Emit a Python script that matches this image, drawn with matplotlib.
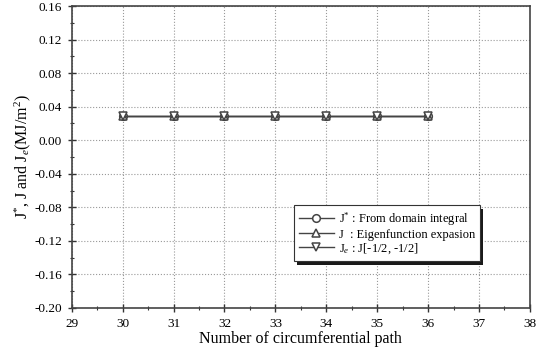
import numpy as np
import matplotlib
matplotlib.use('Agg')
import matplotlib.pyplot as plt
from matplotlib.ticker import MultipleLocator
from matplotlib.patches import Rectangle

plt.rcParams['font.family'] = ['Liberation Serif', 'DejaVu Serif']
plt.rcParams['mathtext.fontset'] = 'custom'
plt.rcParams['mathtext.rm'] = 'Liberation Serif'
plt.rcParams['mathtext.it'] = 'Liberation Serif:italic'

################   Data   ####################
paths = [30, 31, 32, 33, 34, 35, 36]
J_star = [0.029, 0.029, 0.029, 0.029, 0.029, 0.029, 0.029]    # domain integral
J_eig = [0.029, 0.029, 0.029, 0.029, 0.029, 0.029, 0.029]     # eigenfunction expansion
J_e = [0.029, 0.029, 0.029, 0.029, 0.029, 0.029, 0.029]       # J[-1/2, -1/2]

labels = [r'$\mathrm{J}^{*}$ : From domain integral',
          r'J  : Eigenfunction expasion',
          r'$\mathrm{J}_{e}$ : J[-1/2, -1/2]']

################   Plot   ####################
fig = plt.figure(figsize=(5.44, 3.56), dpi=100)
ax = fig.add_axes([0.132, 0.135, 0.842, 0.848])

lc = '#444444'
ax.plot(paths, J_star, c=lc, lw=1.0, marker='o', ms=5.5, mfc='white', mec=lc, mew=1.1, label=labels[0])
ax.plot(paths, J_eig, c=lc, lw=1.0, marker='^', ms=5.5, mfc='white', mec=lc, mew=1.1, label=labels[1])
ax.plot(paths, J_e, c=lc, lw=1.0, marker='v', ms=5.5, mfc='white', mec=lc, mew=1.1, label=labels[2])

ax.set_xlim(29, 38)
ax.set_ylim(-0.20, 0.16)
ax.xaxis.set_major_locator(MultipleLocator(1))
ax.xaxis.set_minor_locator(MultipleLocator(0.5))
ax.yaxis.set_major_locator(MultipleLocator(0.04))
ax.yaxis.set_minor_locator(MultipleLocator(0.02))
ax.yaxis.set_major_formatter(lambda v, p: '%.2f' % (0.0 if abs(v) < 1e-9 else v))

ax.grid(True, which='major', ls=':', lw=0.8, color='#999999')
ax.tick_params(which='major', direction='inout', length=6, width=1.0, labelsize=9.5, color='#333333', pad=4)
ax.tick_params(which='minor', direction='inout', length=3, width=0.8, color='#333333')
for s in ax.spines.values():
    s.set_linewidth(1.2)
    s.set_color('#444444')

ax.set_xlabel('Number of circumferential path', fontsize=11.5, labelpad=1)
ax.set_ylabel(r'J$^{*}$, J and J$_{e}$(MJ/m$^{2}$)', fontsize=11.5, labelpad=1)

leg = ax.legend(loc='lower right', bbox_to_anchor=(0.891, 0.156), borderaxespad=0,
                fontsize=9, frameon=True, fancybox=False, edgecolor='#333333', framealpha=1.0,
                handlelength=2.8, handletextpad=0.4, labelspacing=0.05, borderpad=0.4)
leg.get_frame().set_linewidth(0.8)

# drop shadow under the legend box, heavier along the bottom
fig.canvas.draw()
bb = leg.get_window_extent()
shadow = Rectangle((bb.x0 + 3, bb.y0 - 4), bb.width, bb.height, transform=None,
                   facecolor='#1a1a1a', edgecolor='none', zorder=leg.get_zorder() - 0.1)
ax.add_artist(shadow)
leg.set_zorder(6)

plt.savefig('out.png', dpi=100)
